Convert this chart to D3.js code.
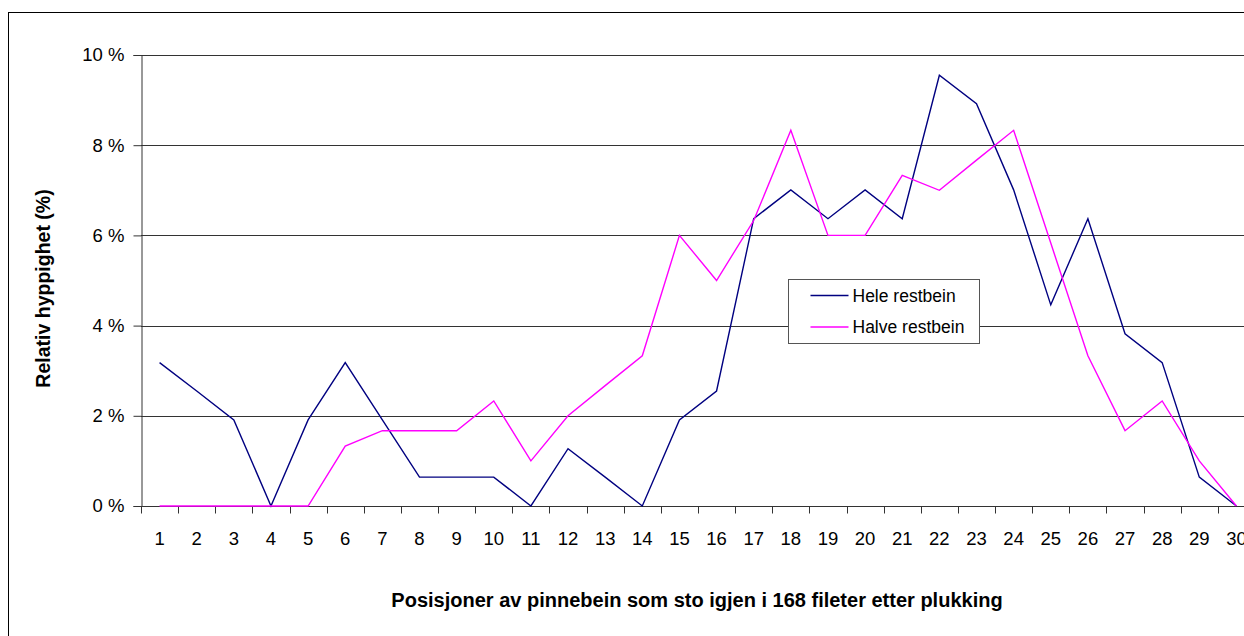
<!DOCTYPE html>
<html>
<head>
<meta charset="utf-8">
<script src="https://cdn.jsdelivr.net/npm/d3@7"></script>
<style>
  html, body { margin: 0; padding: 0; background: #fff; }
  svg { display: block; font-family: "Liberation Sans", Arial, sans-serif; }
</style>
</head>
<body>
<div id="chart"></div>
<script>
// Posisjoner 1..30, relativ hyppighet i prosent
const positions = d3.range(1, 31);
const hele = [3.18, 2.55, 1.91, 0, 1.91, 3.18, 1.91, 0.64, 0.64, 0.64,
              0, 1.27, 0.64, 0, 1.91, 2.55, 6.37, 7.01, 6.37, 7.01,
              6.37, 9.55, 8.92, 7.01, 4.46, 6.37, 3.82, 3.18, 0.64, 0];
const halve = [0, 0, 0, 0, 0, 1.33, 1.67, 1.67, 1.67, 2.33,
               1.0, 2.0, 2.67, 3.33, 6.0, 5.0, 6.33, 8.33, 6.0, 6.0,
               7.33, 7.0, 7.67, 8.33, 5.83, 3.33, 1.67, 2.33, 1.0, 0];
const yTicks = [0, 2, 4, 6, 8, 10];
const seriesNames = ['Hele restbein', 'Halve restbein'];
const seriesColors = ['#000080', '#ff00ff'];

const width = 1244, height = 636;
const plot = { left: 141, right: 1255, top: 55, bottom: 506 };

const svg = d3.select('#chart').append('svg')
  .attr('width', width).attr('height', height);

// chart border (right/bottom run outside the window)
svg.append('rect')
  .attr('x', 8.5).attr('y', 12.5)
  .attr('width', 1300).attr('height', 700)
  .attr('fill', '#fff').attr('stroke', '#000');

const x = d3.scaleBand().domain(positions).range([plot.left, plot.right]);
const y = d3.scaleLinear().domain([0, 10]).range([plot.bottom, plot.top]);

// gridlines
svg.append('g')
  .selectAll('line')
  .data(yTicks.filter(d => d > 0))
  .enter().append('line')
  .attr('x1', plot.left).attr('x2', plot.right)
  .attr('y1', d => Math.round(y(d)) + 0.5).attr('y2', d => Math.round(y(d)) + 0.5)
  .attr('stroke', '#333');

// y axis
const yAxis = svg.append('g')
  .attr('transform', `translate(${plot.left + 0.5},0)`)
  .call(d3.axisLeft(y).tickValues(yTicks).tickSize(8).tickPadding(9).tickFormat(d => d + ' %'));
yAxis.select('.domain').attr('stroke', '#333');
yAxis.selectAll('.tick line').attr('stroke', '#333');
yAxis.selectAll('.tick text').style('font-size', '18.5px').attr('fill', '#000');

// x axis: ticks between categories
const xAxis = svg.append('g')
  .attr('transform', `translate(0,${Math.round(plot.bottom) + 0.5})`);
xAxis.append('line')
  .attr('x1', plot.left).attr('x2', plot.right)
  .attr('stroke', '#333');
xAxis.selectAll('.tk')
  .data(positions)
  .enter().append('line')
  .attr('class', 'tk')
  .attr('x1', d => Math.round(x(d)) + 0.5).attr('x2', d => Math.round(x(d)) + 0.5)
  .attr('y1', 0).attr('y2', 7)
  .attr('stroke', '#333');
xAxis.selectAll('text')
  .data(positions)
  .enter().append('text')
  .attr('x', d => x(d) + x.bandwidth() / 2)
  .attr('y', 38)
  .attr('text-anchor', 'middle')
  .style('font-size', '18.5px')
  .text(d => d);

// lines
const line = d3.line()
  .x((d, i) => x(positions[i]) + x.bandwidth() / 2)
  .y(d => y(d));

[hele, halve].forEach((s, i) => {
  svg.append('path')
    .datum(s)
    .attr('fill', 'none')
    .attr('stroke', seriesColors[i])
    .attr('stroke-width', 1.4)
    .attr('d', line);
});

// axis titles
svg.append('text')
  .attr('transform', `translate(50,${(plot.top + plot.bottom) / 2 + 8}) rotate(-90)`)
  .attr('text-anchor', 'middle')
  .style('font-size', '19.5px').style('font-weight', 'bold')
  .text('Relativ hyppighet (%)');

svg.append('text')
  .attr('x', (plot.left + plot.right) / 2 - 1)
  .attr('y', 607)
  .attr('text-anchor', 'middle')
  .style('font-size', '20px').style('font-weight', 'bold')
  .text('Posisjoner av pinnebein som sto igjen i 168 fileter etter plukking');

// legend
const legend = svg.append('g').attr('transform', 'translate(788.5,279.5)');
legend.append('rect')
  .attr('width', 191).attr('height', 64)
  .attr('fill', '#fff').attr('stroke', '#555');
seriesNames.forEach((name, i) => {
  const ly = 16 + i * 31.5;
  legend.append('line')
    .attr('x1', 22).attr('x2', 60)
    .attr('y1', ly).attr('y2', ly)
    .attr('stroke', seriesColors[i]).attr('stroke-width', 1.4);
  legend.append('text')
    .attr('x', 64).attr('y', ly + 6)
    .style('font-size', '17.5px')
    .text(name);
});
</script>
</body>
</html>
